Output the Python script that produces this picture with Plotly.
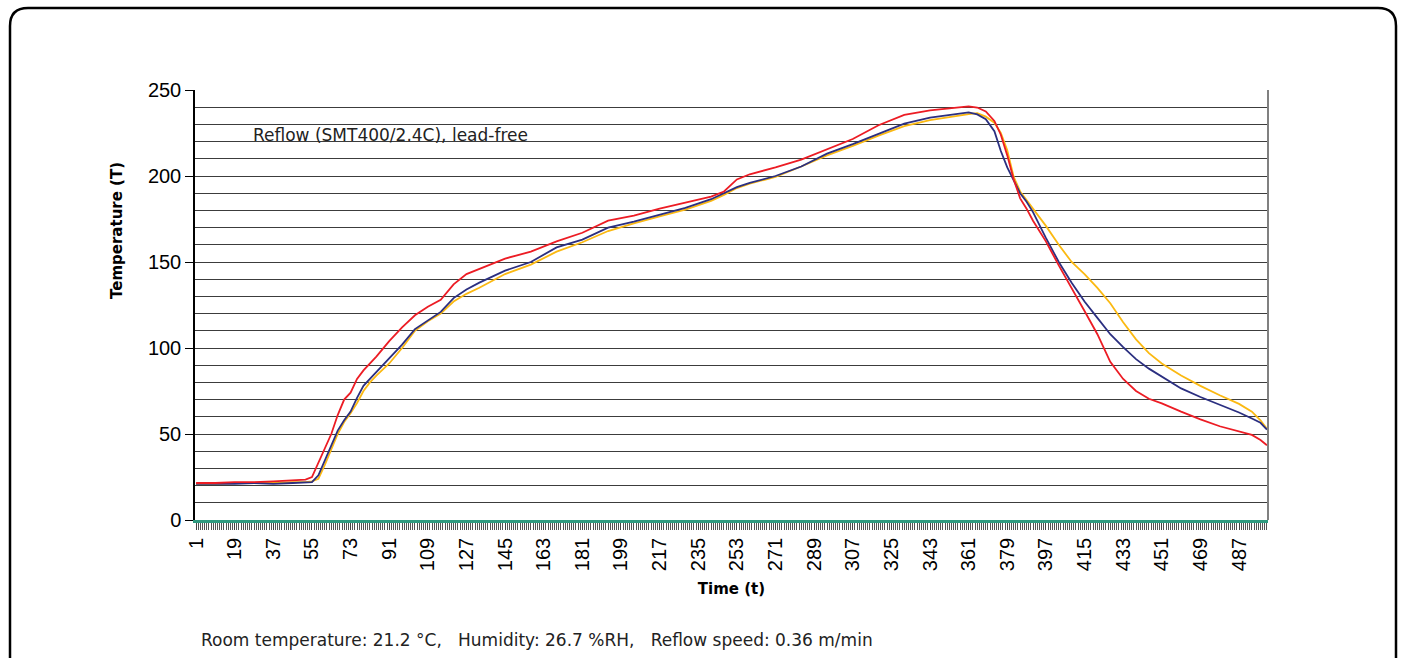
import plotly.graph_objects as go

# sampled readings (time step, temperature) for the three probes
time = [1, 10, 19, 28, 37, 46, 52, 55, 58, 61, 64, 67, 70, 73, 76, 79, 82, 85,
        91, 97, 103, 109, 115, 121, 127, 133, 145, 157, 169, 181, 193, 205, 217,
        229, 241, 247, 253, 259, 271, 283, 295, 307, 319, 331, 343, 355, 361, 365,
        369, 373, 376, 379, 382, 385, 388, 391, 397, 403, 409, 415, 421, 427, 433,
        439, 445, 451, 460, 469, 478, 487, 493, 497, 500]

red = [21.5, 21.5, 22, 22, 22.5, 23, 23.5, 25, 33, 42, 50, 61, 70, 74, 82, 87, 91, 95,
       104, 112, 119, 124, 128, 137, 143, 146, 152, 156, 162, 167, 174, 177, 181,
       184.5, 188, 191, 198, 201, 205, 209.5, 215.5, 221.5, 229.5, 235.5, 238.2, 239.5, 240.5, 239.8,
       237.5, 232, 224, 212, 198, 187, 181, 174, 162, 148, 135, 121.5, 108, 92, 82,
       75, 70.5, 67.8, 63, 58.5, 54.5, 51.5, 49.5, 46.5, 43.5]

blue = [21, 21, 21, 21.5, 21, 21.5, 22, 22, 26, 35, 43, 52, 58, 63, 71, 78, 82, 86,
        94, 102, 111, 116, 121, 129, 134, 138, 145, 150, 158.5, 163, 170, 173.5, 177.5,
        181.5, 186.5, 190, 193.5, 196, 200, 205.5, 213, 218.5, 224.5, 230.5, 234, 236, 237, 235.8,
        233, 226, 214.5, 205, 197.5, 190, 185, 179, 164, 150, 138, 127, 117.5, 108, 100.5,
        93.5, 88, 83.5, 76.5, 71.5, 67, 62.5, 59, 56.5, 52.5]

yellow = [21, 21, 21.5, 21.5, 21.5, 22, 22, 22.5, 24, 32, 41, 50, 57, 62, 68, 75, 80, 84,
          91, 100, 110, 115.5, 120, 127, 131.5, 135, 143, 148.5, 156, 161.5, 168, 172.5, 176.5,
          180.5, 185.5, 189, 193, 195.5, 199.5, 205.5, 212, 217.5, 223.5, 229, 232.5, 235, 236, 236.5,
          234.5, 231, 225, 215, 199.5, 191, 186, 181, 171, 160, 150, 143, 135, 126, 115,
          105, 97, 91, 84, 78, 72.5, 67.5, 63, 58, 53]

tick_labels = list(range(1, 500, 18))
y_ticks = [0, 50, 100, 150, 200, 250]

# plot area in pixels
L, R, T, B = 195, 1268, 90, 520
W, H = 1405, 658


def px(x, y):
    # pixel position -> paper coordinates
    return (x - L) / (R - L), (B - y) / (B - T)


fig = go.Figure()
fig.add_trace(go.Scatter(x=time, y=yellow, mode='lines', line=dict(color='#fbb912', width=1.8), name='yellow'))
fig.add_trace(go.Scatter(x=time, y=blue, mode='lines', line=dict(color='#2b2f80', width=1.8), name='blue'))
fig.add_trace(go.Scatter(x=time, y=red, mode='lines', line=dict(color='#ec1c24', width=1.8), name='red'))

# rounded frame around the whole chart
r = 18
x0, y0, x1, y1 = 10, 8, 1396, 680
pts = {
    'a': px(x0, y1), 'b': px(x0, y0 + r), 'c': px(x0, y0), 'd': px(x0 + r, y0),
    'e': px(x1 - r, y0), 'f': px(x1, y0), 'g': px(x1, y0 + r), 'h': px(x1, y1),
}
path = 'M {a[0]},{a[1]} L {b[0]},{b[1]} Q {c[0]},{c[1]} {d[0]},{d[1]} L {e[0]},{e[1]} Q {f[0]},{f[1]} {g[0]},{g[1]} L {h[0]},{h[1]}'.format(**pts)

note_font = dict(family='DejaVu Sans', size=17, color='#222')

fig.update_layout(
    width=W, height=H,
    margin=dict(l=L, r=W - R, t=T, b=H - B),
    paper_bgcolor='white', plot_bgcolor='white',
    showlegend=False,
    font=dict(family='Liberation Sans, Arial', color='black'),
    shapes=[
        dict(type='path', path=path, xref='paper', yref='paper',
             line=dict(color='black', width=2.5)),
        dict(type='line', xref='paper', yref='paper', x0=1, x1=1, y0=0, y1=1,
             line=dict(color='#808080', width=2)),
    ],
    annotations=[
        dict(text='Reflow (SMT400/2.4C), lead-free', xref='paper', yref='paper',
             x=px(251, 0)[0], y=px(0, 135)[1], xanchor='left', yanchor='middle',
             showarrow=False, font=note_font),
        dict(text='Room temperature: 21.2 °C,&nbsp;&nbsp;&nbsp;Humidity: 26.7 %RH,&nbsp;&nbsp;&nbsp;Reflow speed: 0.36 m/min',
             xref='paper', yref='paper', x=px(199, 0)[0], y=px(0, 640)[1],
             xanchor='left', yanchor='middle', showarrow=False, font=note_font),
        dict(text='<b>Temperature (T)</b>', xref='paper', yref='paper',
             x=px(117, 0)[0], y=px(0, 231)[1], xanchor='center', yanchor='middle',
             textangle=-90, showarrow=False,
             font=dict(family='DejaVu Sans', size=15, color='black')),
    ],
)

fig.update_xaxes(
    range=[0.5, 500.5],
    tickmode='array', tickvals=tick_labels, ticktext=[str(v) for v in tick_labels],
    tickangle=-90, tickfont=dict(size=20),
    ticks='outside', ticklen=7, tickcolor='#444',
    minor=dict(tick0=1, dtick=1, ticks='outside', ticklen=7, tickcolor='#555', tickwidth=1),
    showgrid=False, zeroline=False,
    showline=True, linecolor='#2f9a7f', linewidth=2.5,
    title=dict(text='<b>Time (t)</b>', font=dict(family='DejaVu Sans', size=15), standoff=14),
)
fig.update_yaxes(
    range=[0, 250],
    tickvals=y_ticks, tickfont=dict(size=20),
    ticks='outside', ticklen=8, tickcolor='black',
    showgrid=True, gridcolor='#3c3c3c', gridwidth=1,
    minor=dict(dtick=10, showgrid=True, gridcolor='#3c3c3c', gridwidth=1),
    zeroline=False,
    showline=True, linecolor='black', linewidth=1.5,
)

fig.write_html('out.html', config={'displayModeBar': False},
               post_script="document.body.style.margin='0';")
